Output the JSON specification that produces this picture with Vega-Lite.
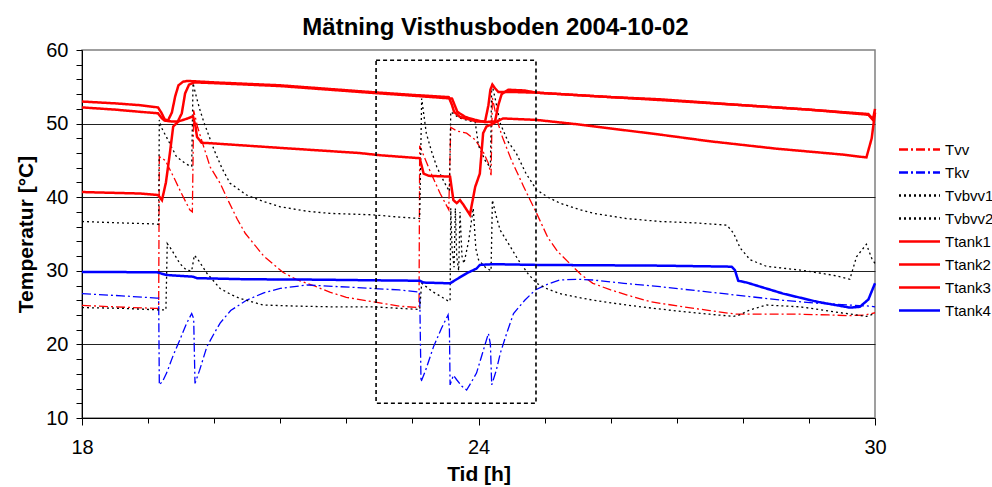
{
"$schema": "https://vega.github.io/schema/vega-lite/v6.json",
"width": 793, "height": 368,
"autosize": {"type": "none"},
"padding": {"left": 82, "top": 50, "right": 117, "bottom": 69},
"background": "white",
"title": {"text": "Mätning Visthusboden 2004-10-02", "font": "Liberation Sans", "fontSize": 24, "fontWeight": "bold", "anchor": "middle", "dx": 17, "offset": 0, "color": "black"},
"config": {
  "view": {"stroke": "#808080", "strokeWidth": 1.5},
  "legend": {"orient": "none", "legendX": 826, "legendY": 88, "symbolType": "M-2.05,0H2.05", "symbolSize": 400, "symbolStrokeWidth": 2.5, "labelFont": "Liberation Sans", "labelFontSize": 15, "labelColor": "black", "rowPadding": 3, "labelOffset": 14, "padding": 0, "labelLimit": 200}
},
"datasets": {
"box": [{"t": 22.45, "t2": 24.87, "v": 12, "v2": 58.6}],
"d": [
{"s":"Tvv","t":18,"v":25.3},{"s":"Tvv","t":18.5,"v":25.1},{"s":"Tvv","t":19.1,"v":24.9},{"s":"Tvv","t":19.16,"v":24.9},{"s":"Tvv","t":19.17,"v":45.5},{"s":"Tvv","t":19.26,"v":45.0},{"s":"Tvv","t":19.4,"v":42.5},{"s":"Tvv","t":19.5,"v":40.6},{"s":"Tvv","t":19.63,"v":38.3},{"s":"Tvv","t":19.67,"v":38.0},{"s":"Tvv","t":19.69,"v":51.8},{"s":"Tvv","t":19.75,"v":49.5},{"s":"Tvv","t":19.84,"v":46.9},{"s":"Tvv","t":19.94,"v":44.1},{"s":"Tvv","t":20.09,"v":41.9},{"s":"Tvv","t":20.22,"v":39.4},{"s":"Tvv","t":20.35,"v":37.0},{"s":"Tvv","t":20.47,"v":35.1},{"s":"Tvv","t":20.75,"v":32.0},{"s":"Tvv","t":21.04,"v":29.8},{"s":"Tvv","t":21.25,"v":28.8},{"s":"Tvv","t":21.5,"v":28.0},{"s":"Tvv","t":21.75,"v":27.1},{"s":"Tvv","t":22.0,"v":26.4},{"s":"Tvv","t":22.46,"v":25.7},{"s":"Tvv","t":22.8,"v":25.2},{"s":"Tvv","t":23.1,"v":25.0},{"s":"Tvv","t":23.11,"v":47.0},{"s":"Tvv","t":23.26,"v":43.7},{"s":"Tvv","t":23.42,"v":40.5},{"s":"Tvv","t":23.55,"v":38.3},{"s":"Tvv","t":23.58,"v":49.5},{"s":"Tvv","t":23.67,"v":49.0},{"s":"Tvv","t":23.82,"v":48.7},{"s":"Tvv","t":23.95,"v":47.8},{"s":"Tvv","t":24.08,"v":46.0},{"s":"Tvv","t":24.15,"v":44.6},{"s":"Tvv","t":24.19,"v":43.0},{"s":"Tvv","t":24.21,"v":53.5},{"s":"Tvv","t":24.28,"v":50.5},{"s":"Tvv","t":24.36,"v":48.2},{"s":"Tvv","t":24.5,"v":45.0},{"s":"Tvv","t":24.68,"v":41.5},{"s":"Tvv","t":24.88,"v":37.8},{"s":"Tvv","t":25.05,"v":34.5},{"s":"Tvv","t":25.2,"v":32.6},{"s":"Tvv","t":25.38,"v":31.0},{"s":"Tvv","t":25.55,"v":29.5},{"s":"Tvv","t":25.73,"v":28.3},{"s":"Tvv","t":26.0,"v":27.4},{"s":"Tvv","t":26.25,"v":26.7},{"s":"Tvv","t":26.6,"v":25.8},{"s":"Tvv","t":27.1,"v":25.1},{"s":"Tvv","t":27.5,"v":24.6},{"s":"Tvv","t":27.9,"v":24.1},{"s":"Tvv","t":28.4,"v":24.1},{"s":"Tvv","t":28.87,"v":24.1},{"s":"Tvv","t":29.3,"v":24.0},{"s":"Tvv","t":29.62,"v":23.9},{"s":"Tvv","t":29.85,"v":24.0},{"s":"Tvv","t":30,"v":24.3},
{"s":"Tkv","t":18,"v":26.9},{"s":"Tkv","t":18.6,"v":26.6},{"s":"Tkv","t":19.13,"v":26.3},{"s":"Tkv","t":19.16,"v":26.3},{"s":"Tkv","t":19.17,"v":14.5},{"s":"Tkv","t":19.22,"v":15.0},{"s":"Tkv","t":19.28,"v":16.1},{"s":"Tkv","t":19.38,"v":18.5},{"s":"Tkv","t":19.48,"v":20.6},{"s":"Tkv","t":19.58,"v":22.8},{"s":"Tkv","t":19.66,"v":24.2},{"s":"Tkv","t":19.69,"v":23.5},{"s":"Tkv","t":19.71,"v":14.7},{"s":"Tkv","t":19.78,"v":16.5},{"s":"Tkv","t":19.89,"v":19.7},{"s":"Tkv","t":20.0,"v":21.5},{"s":"Tkv","t":20.09,"v":22.9},{"s":"Tkv","t":20.25,"v":24.6},{"s":"Tkv","t":20.49,"v":26.0},{"s":"Tkv","t":20.75,"v":27.0},{"s":"Tkv","t":21.0,"v":27.6},{"s":"Tkv","t":21.4,"v":28.07},{"s":"Tkv","t":21.9,"v":27.84},{"s":"Tkv","t":22.41,"v":27.6},{"s":"Tkv","t":22.8,"v":27.4},{"s":"Tkv","t":23.11,"v":27.1},{"s":"Tkv","t":23.13,"v":14.9},{"s":"Tkv","t":23.2,"v":16.5},{"s":"Tkv","t":23.32,"v":19.7},{"s":"Tkv","t":23.44,"v":22.2},{"s":"Tkv","t":23.54,"v":24.0},{"s":"Tkv","t":23.56,"v":22.0},{"s":"Tkv","t":23.57,"v":14.5},{"s":"Tkv","t":23.62,"v":15.8},{"s":"Tkv","t":23.67,"v":15.2},{"s":"Tkv","t":23.75,"v":14.3},{"s":"Tkv","t":23.82,"v":13.8},{"s":"Tkv","t":23.9,"v":15.0},{"s":"Tkv","t":23.97,"v":16.1},{"s":"Tkv","t":24.05,"v":18.5},{"s":"Tkv","t":24.15,"v":21.5},{"s":"Tkv","t":24.18,"v":20.0},{"s":"Tkv","t":24.2,"v":14.5},{"s":"Tkv","t":24.27,"v":16.5},{"s":"Tkv","t":24.33,"v":18.8},{"s":"Tkv","t":24.43,"v":21.6},{"s":"Tkv","t":24.53,"v":24.2},{"s":"Tkv","t":24.7,"v":26.0},{"s":"Tkv","t":24.86,"v":27.4},{"s":"Tkv","t":25.05,"v":28.2},{"s":"Tkv","t":25.23,"v":28.75},{"s":"Tkv","t":25.5,"v":28.85},{"s":"Tkv","t":25.74,"v":28.75},{"s":"Tkv","t":26.2,"v":28.3},{"s":"Tkv","t":26.75,"v":27.84},{"s":"Tkv","t":27.4,"v":27.2},{"s":"Tkv","t":28.1,"v":26.5},{"s":"Tkv","t":28.6,"v":26.0},{"s":"Tkv","t":29.12,"v":25.6},{"s":"Tkv","t":29.5,"v":25.4},{"s":"Tkv","t":29.93,"v":25.2},{"s":"Tkv","t":30,"v":25.1},
{"s":"Tvbvv1","t":18,"v":36.7},{"s":"Tvbvv1","t":18.6,"v":36.5},{"s":"Tvbvv1","t":19.13,"v":36.36},{"s":"Tvbvv1","t":19.16,"v":36.3},{"s":"Tvbvv1","t":19.17,"v":50.5},{"s":"Tvbvv1","t":19.2,"v":49.5},{"s":"Tvbvv1","t":19.3,"v":47.8},{"s":"Tvbvv1","t":19.43,"v":45.5},{"s":"Tvbvv1","t":19.56,"v":44.6},{"s":"Tvbvv1","t":19.62,"v":44.3},{"s":"Tvbvv1","t":19.66,"v":44.2},{"s":"Tvbvv1","t":19.68,"v":55.5},{"s":"Tvbvv1","t":19.72,"v":54.0},{"s":"Tvbvv1","t":19.78,"v":52.0},{"s":"Tvbvv1","t":19.84,"v":50.3},{"s":"Tvbvv1","t":20.0,"v":46.4},{"s":"Tvbvv1","t":20.12,"v":43.9},{"s":"Tvbvv1","t":20.24,"v":41.9},{"s":"Tvbvv1","t":20.49,"v":40.3},{"s":"Tvbvv1","t":20.75,"v":39.4},{"s":"Tvbvv1","t":21.0,"v":38.7},{"s":"Tvbvv1","t":21.4,"v":38.1},{"s":"Tvbvv1","t":21.75,"v":37.8},{"s":"Tvbvv1","t":22.41,"v":37.6},{"s":"Tvbvv1","t":22.8,"v":37.3},{"s":"Tvbvv1","t":23.11,"v":37.1},{"s":"Tvbvv1","t":23.14,"v":53.4},{"s":"Tvbvv1","t":23.21,"v":48.7},{"s":"Tvbvv1","t":23.29,"v":46.2},{"s":"Tvbvv1","t":23.37,"v":44.1},{"s":"Tvbvv1","t":23.45,"v":42.6},{"s":"Tvbvv1","t":23.52,"v":41.4},{"s":"Tvbvv1","t":23.56,"v":40.8},{"s":"Tvbvv1","t":23.58,"v":51.6},{"s":"Tvbvv1","t":23.7,"v":50.8},{"s":"Tvbvv1","t":23.85,"v":50.4},{"s":"Tvbvv1","t":23.95,"v":50.2},{"s":"Tvbvv1","t":24.0,"v":47.0},{"s":"Tvbvv1","t":24.1,"v":45.0},{"s":"Tvbvv1","t":24.18,"v":44.0},{"s":"Tvbvv1","t":24.2,"v":55.5},{"s":"Tvbvv1","t":24.25,"v":53.5},{"s":"Tvbvv1","t":24.33,"v":50.0},{"s":"Tvbvv1","t":24.45,"v":47.5},{"s":"Tvbvv1","t":24.57,"v":46.0},{"s":"Tvbvv1","t":24.72,"v":43.2},{"s":"Tvbvv1","t":24.88,"v":41.0},{"s":"Tvbvv1","t":25.05,"v":40.0},{"s":"Tvbvv1","t":25.23,"v":39.2},{"s":"Tvbvv1","t":25.5,"v":38.4},{"s":"Tvbvv1","t":25.74,"v":37.8},{"s":"Tvbvv1","t":26.24,"v":37.1},{"s":"Tvbvv1","t":26.75,"v":36.7},{"s":"Tvbvv1","t":27.3,"v":36.5},{"s":"Tvbvv1","t":27.76,"v":36.2},{"s":"Tvbvv1","t":27.86,"v":35.1},{"s":"Tvbvv1","t":27.96,"v":33.1},{"s":"Tvbvv1","t":28.11,"v":31.5},{"s":"Tvbvv1","t":28.36,"v":30.6},{"s":"Tvbvv1","t":28.87,"v":30.1},{"s":"Tvbvv1","t":29.37,"v":29.4},{"s":"Tvbvv1","t":29.62,"v":28.85},{"s":"Tvbvv1","t":29.72,"v":31.9},{"s":"Tvbvv1","t":29.87,"v":33.6},{"s":"Tvbvv1","t":29.95,"v":31.7},{"s":"Tvbvv1","t":30,"v":31.0},
{"s":"Tvbvv2","t":18,"v":25.0},{"s":"Tvbvv2","t":18.6,"v":24.9},{"s":"Tvbvv2","t":19.13,"v":24.7},{"s":"Tvbvv2","t":19.27,"v":24.7},{"s":"Tvbvv2","t":19.29,"v":33.7},{"s":"Tvbvv2","t":19.33,"v":33.2},{"s":"Tvbvv2","t":19.4,"v":32.2},{"s":"Tvbvv2","t":19.48,"v":31.0},{"s":"Tvbvv2","t":19.58,"v":30.1},{"s":"Tvbvv2","t":19.66,"v":30.0},{"s":"Tvbvv2","t":19.7,"v":32.1},{"s":"Tvbvv2","t":19.75,"v":31.6},{"s":"Tvbvv2","t":19.89,"v":29.66},{"s":"Tvbvv2","t":20.09,"v":27.6},{"s":"Tvbvv2","t":20.25,"v":26.8},{"s":"Tvbvv2","t":20.39,"v":26.25},{"s":"Tvbvv2","t":20.74,"v":25.35},{"s":"Tvbvv2","t":21.25,"v":25.2},{"s":"Tvbvv2","t":21.8,"v":25.1},{"s":"Tvbvv2","t":22.41,"v":25.1},{"s":"Tvbvv2","t":22.8,"v":24.9},{"s":"Tvbvv2","t":23.11,"v":24.75},{"s":"Tvbvv2","t":23.14,"v":28.3},{"s":"Tvbvv2","t":23.3,"v":27.2},{"s":"Tvbvv2","t":23.45,"v":26.4},{"s":"Tvbvv2","t":23.54,"v":25.9},{"s":"Tvbvv2","t":23.57,"v":25.9},{"s":"Tvbvv2","t":23.58,"v":38.5},{"s":"Tvbvv2","t":23.6,"v":33.0},{"s":"Tvbvv2","t":23.63,"v":30.5},{"s":"Tvbvv2","t":23.65,"v":38.5},{"s":"Tvbvv2","t":23.67,"v":32.0},{"s":"Tvbvv2","t":23.7,"v":30.0},{"s":"Tvbvv2","t":23.72,"v":38.0},{"s":"Tvbvv2","t":23.75,"v":32.0},{"s":"Tvbvv2","t":23.78,"v":31.0},{"s":"Tvbvv2","t":23.85,"v":34.0},{"s":"Tvbvv2","t":23.92,"v":38.5},{"s":"Tvbvv2","t":23.96,"v":33.0},{"s":"Tvbvv2","t":24.0,"v":31.5},{"s":"Tvbvv2","t":24.1,"v":30.5},{"s":"Tvbvv2","t":24.19,"v":30.0},{"s":"Tvbvv2","t":24.21,"v":39.6},{"s":"Tvbvv2","t":24.28,"v":37.0},{"s":"Tvbvv2","t":24.33,"v":35.5},{"s":"Tvbvv2","t":24.48,"v":33.3},{"s":"Tvbvv2","t":24.6,"v":31.5},{"s":"Tvbvv2","t":24.75,"v":29.6},{"s":"Tvbvv2","t":24.88,"v":28.3},{"s":"Tvbvv2","t":25.05,"v":27.5},{"s":"Tvbvv2","t":25.23,"v":26.9},{"s":"Tvbvv2","t":25.5,"v":26.4},{"s":"Tvbvv2","t":25.74,"v":26.0},{"s":"Tvbvv2","t":26.24,"v":25.35},{"s":"Tvbvv2","t":26.65,"v":24.9},{"s":"Tvbvv2","t":27.1,"v":24.45},{"s":"Tvbvv2","t":27.5,"v":24.1},{"s":"Tvbvv2","t":27.86,"v":23.8},{"s":"Tvbvv2","t":27.95,"v":24.0},{"s":"Tvbvv2","t":28.11,"v":24.7},{"s":"Tvbvv2","t":28.36,"v":25.35},{"s":"Tvbvv2","t":28.87,"v":25.1},{"s":"Tvbvv2","t":29.37,"v":24.45},{"s":"Tvbvv2","t":29.87,"v":23.8},{"s":"Tvbvv2","t":30,"v":24.2},
{"s":"Ttank1","t":18,"v":53.0},{"s":"Ttank1","t":18.5,"v":52.75},{"s":"Ttank1","t":18.88,"v":52.5},{"s":"Ttank1","t":19.15,"v":52.2},{"s":"Ttank1","t":19.2,"v":51.5},{"s":"Ttank1","t":19.25,"v":50.6},{"s":"Ttank1","t":19.3,"v":50.4},{"s":"Ttank1","t":19.36,"v":51.5},{"s":"Ttank1","t":19.41,"v":53.7},{"s":"Ttank1","t":19.46,"v":55.2},{"s":"Ttank1","t":19.53,"v":55.7},{"s":"Ttank1","t":19.6,"v":55.8},{"s":"Ttank1","t":20.0,"v":55.6},{"s":"Ttank1","t":21.0,"v":55.2},{"s":"Ttank1","t":22.2,"v":54.4},{"s":"Ttank1","t":22.51,"v":54.2},{"s":"Ttank1","t":23.0,"v":53.9},{"s":"Ttank1","t":23.55,"v":53.6},{"s":"Ttank1","t":23.6,"v":52.5},{"s":"Ttank1","t":23.63,"v":51.6},{"s":"Ttank1","t":23.72,"v":50.9},{"s":"Ttank1","t":23.85,"v":50.6},{"s":"Ttank1","t":23.97,"v":50.3},{"s":"Ttank1","t":24.1,"v":50.3},{"s":"Ttank1","t":24.15,"v":52.5},{"s":"Ttank1","t":24.18,"v":54.6},{"s":"Ttank1","t":24.21,"v":55.3},{"s":"Ttank1","t":24.25,"v":54.8},{"s":"Ttank1","t":24.3,"v":54.3},{"s":"Ttank1","t":24.5,"v":54.3},{"s":"Ttank1","t":24.88,"v":54.2},{"s":"Ttank1","t":26.0,"v":53.6},{"s":"Ttank1","t":26.75,"v":53.3},{"s":"Ttank1","t":28.0,"v":52.5},{"s":"Ttank1","t":29.0,"v":51.9},{"s":"Ttank1","t":29.9,"v":51.3},{"s":"Ttank1","t":29.97,"v":50.6},{"s":"Ttank1","t":30,"v":52.0},
{"s":"Ttank2","t":18,"v":52.2},{"s":"Ttank2","t":18.5,"v":51.9},{"s":"Ttank2","t":18.88,"v":51.6},{"s":"Ttank2","t":19.15,"v":51.4},{"s":"Ttank2","t":19.2,"v":50.8},{"s":"Ttank2","t":19.25,"v":50.4},{"s":"Ttank2","t":19.35,"v":50.3},{"s":"Ttank2","t":19.45,"v":50.3},{"s":"Ttank2","t":19.51,"v":51.4},{"s":"Ttank2","t":19.56,"v":54.1},{"s":"Ttank2","t":19.62,"v":55.3},{"s":"Ttank2","t":19.7,"v":55.6},{"s":"Ttank2","t":20.0,"v":55.5},{"s":"Ttank2","t":21.0,"v":55.1},{"s":"Ttank2","t":22.2,"v":54.3},{"s":"Ttank2","t":22.51,"v":54.1},{"s":"Ttank2","t":23.0,"v":53.8},{"s":"Ttank2","t":23.6,"v":53.4},{"s":"Ttank2","t":23.64,"v":52.5},{"s":"Ttank2","t":23.68,"v":51.6},{"s":"Ttank2","t":23.8,"v":50.9},{"s":"Ttank2","t":23.95,"v":50.5},{"s":"Ttank2","t":24.1,"v":50.2},{"s":"Ttank2","t":24.25,"v":50.3},{"s":"Ttank2","t":24.3,"v":52.5},{"s":"Ttank2","t":24.35,"v":54.0},{"s":"Ttank2","t":24.45,"v":54.6},{"s":"Ttank2","t":24.7,"v":54.5},{"s":"Ttank2","t":24.88,"v":54.2},{"s":"Ttank2","t":26.0,"v":53.6},{"s":"Ttank2","t":26.75,"v":53.2},{"s":"Ttank2","t":28.0,"v":52.5},{"s":"Ttank2","t":29.0,"v":51.9},{"s":"Ttank2","t":29.9,"v":51.2},{"s":"Ttank2","t":29.97,"v":50.5},{"s":"Ttank2","t":30,"v":51.5},
{"s":"Ttank3","t":18,"v":40.7},{"s":"Ttank3","t":18.88,"v":40.5},{"s":"Ttank3","t":19.15,"v":40.3},{"s":"Ttank3","t":19.21,"v":39.6},{"s":"Ttank3","t":19.27,"v":42.0},{"s":"Ttank3","t":19.33,"v":46.0},{"s":"Ttank3","t":19.38,"v":49.6},{"s":"Ttank3","t":19.46,"v":50.3},{"s":"Ttank3","t":19.6,"v":50.7},{"s":"Ttank3","t":19.68,"v":51.0},{"s":"Ttank3","t":19.72,"v":49.5},{"s":"Ttank3","t":19.74,"v":48.2},{"s":"Ttank3","t":19.81,"v":47.4},{"s":"Ttank3","t":20.0,"v":47.3},{"s":"Ttank3","t":21.0,"v":46.7},{"s":"Ttank3","t":22.2,"v":46.0},{"s":"Ttank3","t":22.51,"v":45.7},{"s":"Ttank3","t":23.11,"v":45.3},{"s":"Ttank3","t":23.17,"v":43.2},{"s":"Ttank3","t":23.25,"v":42.9},{"s":"Ttank3","t":23.57,"v":42.8},{"s":"Ttank3","t":23.62,"v":39.6},{"s":"Ttank3","t":23.67,"v":39.2},{"s":"Ttank3","t":23.72,"v":39.6},{"s":"Ttank3","t":23.77,"v":39.0},{"s":"Ttank3","t":23.87,"v":37.6},{"s":"Ttank3","t":23.95,"v":41.4},{"s":"Ttank3","t":24.02,"v":43.2},{"s":"Ttank3","t":24.07,"v":48.7},{"s":"Ttank3","t":24.12,"v":49.6},{"s":"Ttank3","t":24.22,"v":50.0},{"s":"Ttank3","t":24.37,"v":50.7},{"s":"Ttank3","t":24.88,"v":50.5},{"s":"Ttank3","t":25.5,"v":49.9},{"s":"Ttank3","t":26.75,"v":48.5},{"s":"Ttank3","t":27.5,"v":47.6},{"s":"Ttank3","t":28.5,"v":46.6},{"s":"Ttank3","t":29.5,"v":45.8},{"s":"Ttank3","t":29.87,"v":45.4},{"s":"Ttank3","t":29.95,"v":48.0},{"s":"Ttank3","t":30,"v":51.5},
{"s":"Ttank4","t":18,"v":29.85},{"s":"Ttank4","t":19.13,"v":29.8},{"s":"Ttank4","t":19.28,"v":29.43},{"s":"Ttank4","t":19.68,"v":29.2},{"s":"Ttank4","t":19.74,"v":29.0},{"s":"Ttank4","t":20.49,"v":28.85},{"s":"Ttank4","t":21.5,"v":28.8},{"s":"Ttank4","t":22.51,"v":28.7},{"s":"Ttank4","t":23.11,"v":28.65},{"s":"Ttank4","t":23.17,"v":28.4},{"s":"Ttank4","t":23.57,"v":28.3},{"s":"Ttank4","t":23.67,"v":28.85},{"s":"Ttank4","t":23.82,"v":29.66},{"s":"Ttank4","t":23.97,"v":30.3},{"s":"Ttank4","t":24.02,"v":30.8},{"s":"Ttank4","t":24.22,"v":30.9},{"s":"Ttank4","t":24.88,"v":30.8},{"s":"Ttank4","t":26.75,"v":30.7},{"s":"Ttank4","t":27.83,"v":30.56},{"s":"Ttank4","t":27.88,"v":30.1},{"s":"Ttank4","t":27.93,"v":28.65},{"s":"Ttank4","t":28.06,"v":28.4},{"s":"Ttank4","t":28.61,"v":26.9},{"s":"Ttank4","t":29.12,"v":25.8},{"s":"Ttank4","t":29.62,"v":25.0},{"s":"Ttank4","t":29.77,"v":25.1},{"s":"Ttank4","t":29.9,"v":26.1},{"s":"Ttank4","t":30,"v":28.3}
]},
"data": {"name": "d"},
"encoding": {
  "x": {"field": "t", "type": "quantitative", "scale": {"domain": [18, 30], "nice": false, "zero": false},
    "axis": {"title": "Tid [h]", "titleFont": "Liberation Sans", "titleFontSize": 21, "titleFontWeight": "bold", "titleColor": "black", "titlePadding": 6,
      "values": [18,19,20,21,22,23,24,25,26,27,28,29,30], "labelExpr": "datum.value % 6 === 0 ? datum.label : ''",
      "labelFont": "Liberation Sans", "labelFontSize": 20, "labelColor": "black", "labelFlush": false, "labelOverlap": false, "labelPadding": 12,
      "grid": false, "domainColor": "black", "domainWidth": 1, "tickColor": "black", "tickWidth": 1,
      "tickSize": {"condition": {"test": "datum.value % 6 === 0", "value": 7}, "value": 5}}},
  "y": {"field": "v", "type": "quantitative", "scale": {"domain": [10, 60], "nice": false, "zero": false},
    "axis": {"title": "Temperatur [°C]", "titleFont": "Liberation Sans", "titleFontSize": 21, "titleFontWeight": "bold", "titleColor": "black", "titlePadding": 9,
      "values": [10,12,14,16,18,20,22,24,26,28,30,32,34,36,38,40,42,44,46,48,50,52,54,56,58,60], "labelExpr": "datum.value % 10 === 0 ? datum.label : ''",
      "labelFont": "Liberation Sans", "labelFontSize": 20, "labelColor": "black", "labelOverlap": false, "labelPadding": 8,
      "grid": true, "gridColor": "#222222", "gridWidth": 1,
      "gridOpacity": {"condition": {"test": "datum.value % 10 === 0 && datum.value > 10 && datum.value < 60", "value": 1}, "value": 0},
      "domainColor": "black", "domainWidth": 1, "tickColor": "black", "tickWidth": 1, "tickSize": 6}}
},
"layer": [
  {"transform": [{"filter": "indexof(['Tvv','Tkv','Tvbvv1','Tvbvv2'], datum.s) >= 0"}],
   "mark": {"type": "line", "strokeWidth": 1.3},
   "encoding": {
     "color": {"field": "s", "type": "nominal", "scale": {"domain": ["Tvv","Tkv","Tvbvv1","Tvbvv2","Ttank1","Ttank2","Ttank3","Ttank4"], "range": ["#ff0000","#0000ff","#000000","#000000","#ff0000","#ff0000","#ff0000","#0000ff"]}, "legend": {"title": null}},
     "strokeDash": {"field": "s", "type": "nominal", "scale": {"domain": ["Tvv","Tkv","Tvbvv1","Tvbvv2","Ttank1","Ttank2","Ttank3","Ttank4"], "range": [[9,3,2,3],[9,3,2,3],[2,3],[2,3],[1,0],[1,0],[1,0],[1,0]]}, "legend": {"title": null}}
   }},
  {"transform": [{"filter": "indexof(['Ttank1','Ttank2','Ttank3','Ttank4'], datum.s) >= 0"}],
   "mark": {"type": "line", "strokeWidth": 2.5},
   "encoding": {
     "color": {"field": "s", "type": "nominal", "scale": {"domain": ["Tvv","Tkv","Tvbvv1","Tvbvv2","Ttank1","Ttank2","Ttank3","Ttank4"], "range": ["#ff0000","#0000ff","#000000","#000000","#ff0000","#ff0000","#ff0000","#0000ff"]}, "legend": {"title": null}},
     "strokeDash": {"field": "s", "type": "nominal", "scale": {"domain": ["Tvv","Tkv","Tvbvv1","Tvbvv2","Ttank1","Ttank2","Ttank3","Ttank4"], "range": [[9,3,2,3],[9,3,2,3],[2,3],[2,3],[1,0],[1,0],[1,0],[1,0]]}, "legend": {"title": null}}
   }},
  {"data": {"name": "box"},
   "mark": {"type": "rect", "filled": false, "stroke": "black", "strokeWidth": 1.6, "strokeDash": [4, 3]},
   "encoding": {
     "x2": {"field": "t2"},
     "y2": {"field": "v2"}
   }}
]
}
